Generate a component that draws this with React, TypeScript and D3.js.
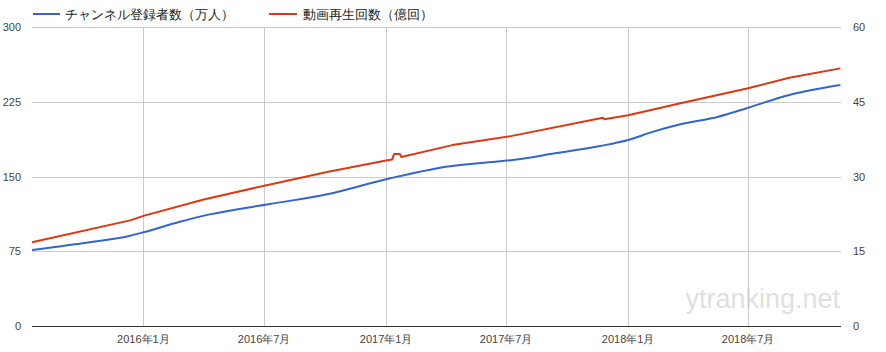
import React from "react";
import * as d3 from "d3";

const leftTicks = [0, 75, 150, 225, 300];
const rightTicks = [0, 15, 30, 45, 60];
const xTickDates = ["2016-01-01", "2016-07-01", "2017-01-01", "2017-07-01", "2018-01-01", "2018-07-01"];
const xTickLabels = ["2016年1月", "2016年7月", "2017年1月", "2017年7月", "2018年1月", "2018年7月"];

const subsLabel = "チャンネル登録者数（万人）";
const viewsLabel = "動画再生回数（億回）";

const subsDates = [
  "2015-07-17", "2015-10-01", "2015-12-12", "2016-01-01", "2016-02-25", "2016-04-10",
  "2016-07-10", "2016-10-04", "2017-01-01", "2017-02-19", "2017-04-01", "2017-05-21",
  "2017-07-08", "2017-09-15", "2017-11-20",
  "2018-01-01", "2018-02-08", "2018-03-21", "2018-05-17", "2018-07-01", "2018-09-01", "2018-11-17",
];
const subsValues = [
  76.3, 83, 90.6, 94, 104.6, 112,
  122.4, 132.1, 147.2, 154.5, 159.8, 163.4,
  166.3, 173.5, 180.6,
  186.6, 195, 202.4, 210, 219, 231.8, 241.8,
];

const viewsDates = [
  "2015-07-17", "2015-12-12", "2016-01-01", "2016-04-01", "2016-07-10",
  "2016-10-04", "2017-01-01", "2017-01-10", "2017-01-13", "2017-01-22", "2017-01-24",
  "2017-04-11", "2017-07-08", "2017-11-24", "2017-11-26", "2018-01-01", "2018-03-21",
  "2018-07-01", "2018-09-01", "2018-11-17",
];
const viewsValues = [
  16.8, 21.2, 22.1, 25.4, 28.4,
  30.9, 33.2, 33.4, 34.5, 34.5, 33.9,
  36.3, 38.1, 41.8, 41.5, 42.3, 44.7,
  47.7, 49.8, 51.7,
];

const domainStart = "2015-07-17";
const domainEnd = "2018-11-18";

const W = 886;
const H = 352;
const M = { left: 32, right: 45, top: 27, bottom: 26 };

export default function App() {
  const parse = (s: string) => new Date(s + "T00:00:00");
  const x = d3.scaleTime().domain([parse(domainStart), parse(domainEnd)]).range([M.left, W - M.right]);
  const yL = d3.scaleLinear().domain([0, 300]).range([H - M.bottom, M.top]);
  const yR = d3.scaleLinear().domain([0, 60]).range([H - M.bottom, M.top]);

  const subsData = subsDates.map((d, i) => ({ d: parse(d), v: subsValues[i] }));
  const viewsData = viewsDates.map((d, i) => ({ d: parse(d), v: viewsValues[i] }));

  const subsLine = d3.line<{ d: Date; v: number }>().x((p) => x(p.d)).y((p) => yL(p.v)).curve(d3.curveMonotoneX);
  const viewsLine = d3.line<{ d: Date; v: number }>().x((p) => x(p.d)).y((p) => yR(p.v)).curve(d3.curveLinear);

  const font = "'Liberation Sans', Arial, sans-serif";
  const x0 = M.left;
  const x1 = W - M.right;

  return (
    <svg width={W} height={H} style={{ position: "absolute", left: 0, top: 0, background: "#fff" }} fontFamily={font}>
      <rect width={W} height={H} fill="#fff" />
      <text x={840} y={308} textAnchor="end" fontSize={27} fill="#e0e0e0">ytranking.net</text>
      {leftTicks.slice(1).map((t) => (
        <line key={"h" + t} x1={x0} x2={x1} y1={Math.round(yL(t)) + 0.5} y2={Math.round(yL(t)) + 0.5} stroke="#cccccc" strokeWidth={1} />
      ))}
      {xTickDates.map((d) => (
        <line key={"v" + d} x1={Math.round(x(parse(d))) + 0.5} x2={Math.round(x(parse(d))) + 0.5} y1={M.top} y2={H - M.bottom} stroke="#cccccc" strokeWidth={1} />
      ))}
      <path d={subsLine(subsData) || ""} fill="none" stroke="#3366cc" strokeWidth={2} />
      <path d={viewsLine(viewsData) || ""} fill="none" stroke="#dc3912" strokeWidth={2} strokeLinejoin="round" />
      <line x1={x0} x2={x1} y1={Math.round(yL(0)) + 0.5} y2={Math.round(yL(0)) + 0.5} stroke="#333333" strokeWidth={1.2} />
      {leftTicks.map((t) => (
        <text key={"l" + t} x={21} y={yL(t) + 4} textAnchor="end" fontSize={11} fill="#444">{t}</text>
      ))}
      {rightTicks.map((t) => (
        <text key={"r" + t} x={853} y={yR(t) + 4} textAnchor="start" fontSize={11} fill="#444">{t}</text>
      ))}
      {xTickDates.map((d, i) => (
        <text key={"x" + d} x={x(parse(d))} y={343} textAnchor="middle" fontSize={11} fill="#444">{xTickLabels[i]}</text>
      ))}
      <line x1={33} x2={60} y1={14} y2={14} stroke="#3366cc" strokeWidth={2} />
      <text x={65} y={19} fontSize={13} fill="#222">{subsLabel}</text>
      <line x1={269} x2={297} y1={14} y2={14} stroke="#dc3912" strokeWidth={2} />
      <text x={303} y={19} fontSize={13} fill="#222">{viewsLabel}</text>
    </svg>
  );
}
